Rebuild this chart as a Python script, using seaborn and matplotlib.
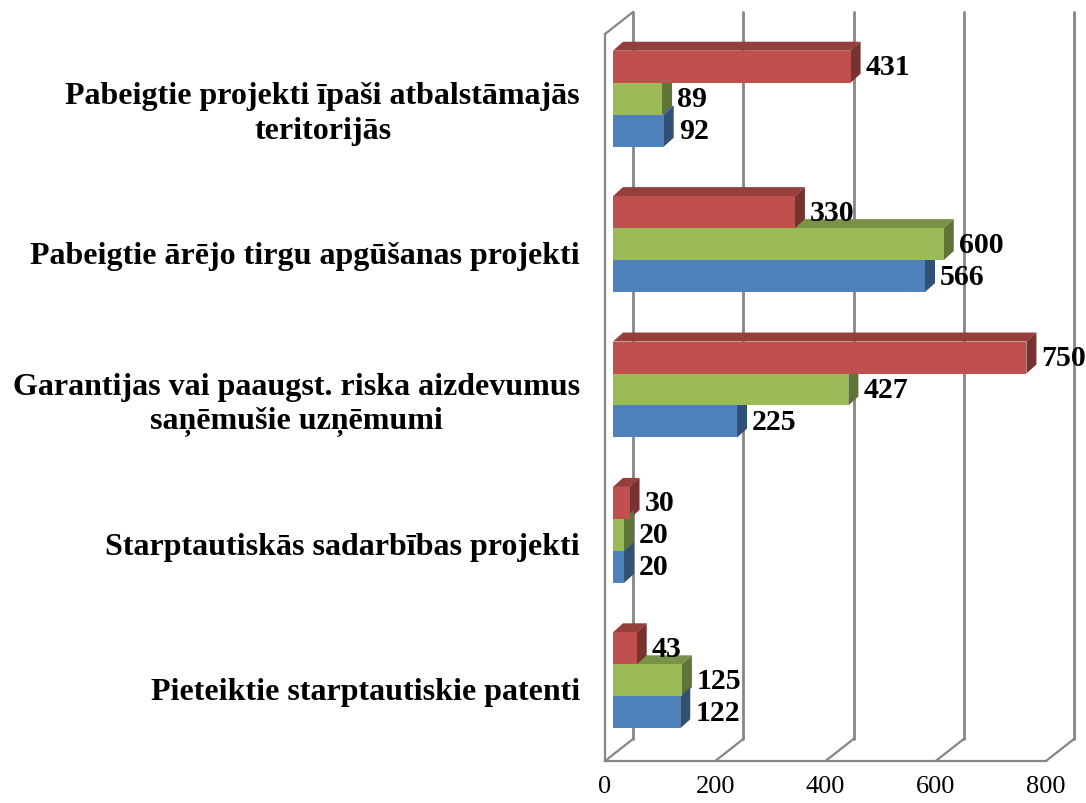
import numpy as np
import pandas as pd
import seaborn as sns
from matplotlib import pyplot as plt
from matplotlib import colors as mcolors
from matplotlib.patches import Polygon

categories = [
    "Pabeigtie projekti īpaši atbalstāmajās\nteritorijās",
    "Pabeigtie ārējo tirgu apgūšanas projekti",
    "Garantijas vai paaugst. riska aizdevumus\nsaņēmušie uzņēmumi",
    "Starptautiskās sadarbības projekti",
    "Pieteiktie starptautiskie patenti",
]
series_names = ["Rinda 1", "Rinda 2", "Rinda 3"]
blue_values = [92, 566, 225, 20, 122]
green_values = [89, 600, 427, 20, 125]
red_values = [431, 330, 750, 30, 43]
x_ticks = [0, 200, 400, 600, 800]

palette = {"Rinda 1": "#4F81BD", "Rinda 2": "#9BBB59", "Rinda 3": "#C0504D"}
GRAY = "#868686"

rows = []
for name, vals in zip(series_names, [blue_values, green_values, red_values]):
    for cat, v in zip(categories, vals):
        rows.append({"kategorija": cat, "vertiba": v, "rinda": name})
df = pd.DataFrame(rows)

sns.set_style("white")
plt.rcParams["font.family"] = ["Liberation Serif", "DejaVu Serif"]
plt.rcParams["text.color"] = "black"
plt.rcParams["xtick.labelcolor"] = "black"
plt.rcParams["ytick.labelcolor"] = "black"

fig = plt.figure(figsize=(10.86, 8.04), dpi=100)
# front plane of the 3d box: x 605..1046 px, y 35..762 px
ax = fig.add_axes([605 / 1086, 42 / 804, 441 / 1086, 727 / 804])

sns.barplot(data=df, x="vertiba", y="kategorija", hue="rinda",
            hue_order=["Rinda 3", "Rinda 2", "Rinda 1"], palette=palette,
            order=categories, orient="h", width=0.66, legend=False,
            saturation=1, ax=ax, zorder=5)

ax.set_xlim(0, 800)
ax.set_ylim(4.5, -0.5)
ax.set_xlabel("")
ax.set_ylabel("")

# pixel -> data helpers
XP = 800 / 441
YP = 5 / 727


def px(dx, dy):
    return dx * XP, -dy * YP


sx, sy = px(8, 8)      # bar front faces sit a bit inside the box
dx, dy = px(10, 9)     # bar depth
bx, by = px(28, 22)    # back wall offset

for p in list(ax.patches):
    x0, y0 = p.get_x(), p.get_y()
    w, h = p.get_width(), p.get_height()
    col = np.array(mcolors.to_rgb(p.get_facecolor()))
    p.set_x(x0 + sx)
    p.set_y(y0 + sy)
    p.set_edgecolor("none")
    xa, xb = x0 + sx, x0 + sx + w
    yt, yb = y0 + sy, y0 + sy + h
    top = Polygon([(xa, yt), (xb, yt), (xb + dx, yt + dy), (xa + dx, yt + dy)],
                  closed=True, facecolor=col * 0.78, edgecolor="none",
                  zorder=3, clip_on=False)
    side = Polygon([(xb, yt), (xb, yb), (xb + dx, yb + dy), (xb + dx, yt + dy)],
                   closed=True, facecolor=col * 0.62, edgecolor="none",
                   zorder=4, clip_on=False)
    ax.add_patch(top)
    ax.add_patch(side)
    ax.text(xb + 15 * XP, (yt + yb) / 2, f"{w:.0f}", ha="left", va="center",
            fontsize=21.5, fontweight="bold", color="black", zorder=6,
            clip_on=False)

# back wall gridlines and floor diagonals
for xv in x_ticks:
    ax.plot([xv + bx, xv + bx], [4.5 + by, -0.5 + by], color=GRAY, lw=2.0,
            zorder=1, clip_on=False)
    ax.plot([xv, xv + bx], [4.5, 4.5 + by], color=GRAY, lw=1.6,
            zorder=1, clip_on=False)
ax.plot([0, bx], [-0.5, -0.5 + by], color=GRAY, lw=1.6, zorder=1, clip_on=False)

for s in ["top", "right"]:
    ax.spines[s].set_visible(False)
for s in ["left", "bottom"]:
    ax.spines[s].set_color(GRAY)
    ax.spines[s].set_linewidth(1.6)

ax.set_xticks(x_ticks)
ax.set_xticklabels([str(t) for t in x_ticks], fontsize=19)
ax.tick_params(axis="x", length=6, width=1.4, color=GRAY, pad=4, direction="out")
ax.set_yticks(range(len(categories)))
ax.set_yticklabels(categories, fontsize=23, fontweight="bold")
ax.set_yticks(np.arange(-0.5, len(categories), 1), minor=True)
ax.tick_params(axis="y", which="major", length=0, pad=18)
ax.tick_params(axis="y", which="minor", length=7, width=1.4, color=GRAY,
               direction="out")
for t in ax.get_yticklabels():
    t.set_multialignment("center")
    t.set_linespacing(1.25)

fig.savefig("out.png", dpi=100)
